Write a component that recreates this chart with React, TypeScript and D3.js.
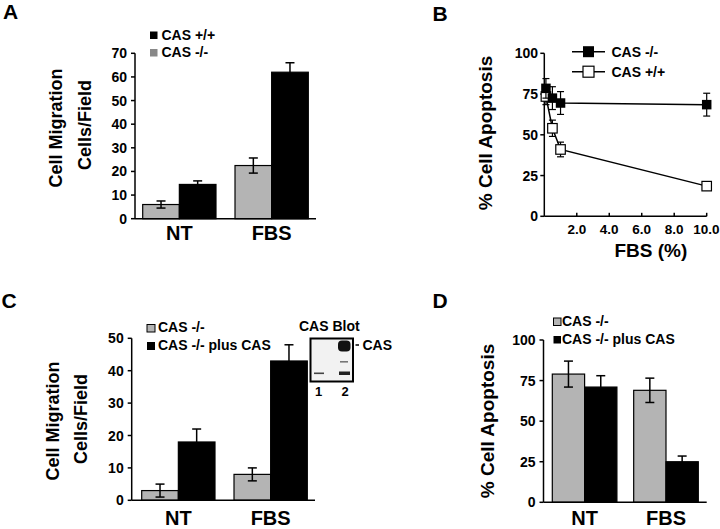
import React from "react";
import * as d3 from "d3";

// ---------- DATA ----------
const barCategories = ["NT", "FBS"];

// Panel A: Cell migration (cells/field)
const aSeries = ["CAS -/-", "CAS +/+"];
const aKO = [6, 22.5];
const aKOErr = [1.5, 3.2];
const aWT = [14.5, 62];
const aWTErr = [1.5, 4];
const aTicks = [0, 10, 20, 30, 40, 50, 60, 70];

// Panel B: % apoptosis vs FBS (%)
const bFbs = [0.1, 0.5, 1, 10];
const bKO = [78.5, 72.5, 69.5, 68.5];
const bKOErr = [6, 7, 7, 7];
const bWT = [73.5, 54, 41, 18.5];
const bWTErr = [5, 5, 4.5, 2.5];
const bYTicks = [0, 25, 50, 75, 100];
const bXTicks = [2, 4, 6, 8, 10];

// Panel C: Cell migration, rescue
const cSeries = ["CAS -/-", "CAS -/- plus CAS"];
const cKO = [3, 8];
const cKOErr = [2, 2];
const cRescue = [18, 43];
const cRescueErr = [4, 5];
const cTicks = [0, 10, 20, 30, 40, 50];

// Panel D: % apoptosis, rescue
const dSeries = ["CAS -/-", "CAS -/- plus CAS"];
const dKO = [79, 69];
const dKOErr = [8, 7.5];
const dRescue = [71, 25];
const dRescueErr = [7, 3.5];
const dTicks = [0, 25, 50, 75, 100];

// ---------- STYLE ----------
const FONT = "'Liberation Sans', Arial, Helvetica, sans-serif";
const GRAY = "#b4b4b4";
const BLACK = "#000";

type BarPanelProps = {
  axisX: number;
  axisEnd: number;
  y0: number;
  yTop: number;
  yMax: number;
  ticks: number[];
  bandStart: number;
  bandEnd: number;
  series: number[][];
  errors: number[][];
  fills: string[];
  labelY: number;
};

function BarPanel(p: BarPanelProps) {
  const y = d3.scaleLinear().domain([0, p.yMax]).range([p.y0, p.yTop]);
  const x0 = d3
    .scaleBand<string>()
    .domain(barCategories)
    .range([p.bandStart, p.bandEnd])
    .paddingInner(0.206)
    .paddingOuter(0);
  const x1 = d3
    .scaleBand<number>()
    .domain(p.series.map((_, i) => i))
    .range([0, x0.bandwidth()]);
  const capW = 9;
  return (
    <g>
      {barCategories.map((cat, ci) => (
        <g key={cat}>
          {p.series.map((s, si) => {
            const bx = (x0(cat) as number) + (x1(si) as number);
            const bw = x1.bandwidth();
            const v = s[ci];
            const e = p.errors[si][ci];
            const cx = bx + bw / 2;
            return (
              <g key={si}>
                <rect
                  x={bx}
                  y={y(v)}
                  width={bw}
                  height={y(0) - y(v)}
                  fill={p.fills[si]}
                  stroke="#000"
                  strokeWidth={1.2}
                />
                <line x1={cx} x2={cx} y1={y(v - e)} y2={y(v + e)} stroke="#000" strokeWidth={1.5} />
                <line x1={cx - capW / 2} x2={cx + capW / 2} y1={y(v + e)} y2={y(v + e)} stroke="#000" strokeWidth={1.5} />
                <line x1={cx - capW / 2} x2={cx + capW / 2} y1={y(v - e)} y2={y(v - e)} stroke="#000" strokeWidth={1.5} />
              </g>
            );
          })}
          <text
            x={(x0(cat) as number) + x0.bandwidth() / 2}
            y={p.labelY}
            textAnchor="middle"
            fontFamily={FONT}
            fontWeight="bold"
            fontSize={20}
          >
            {cat}
          </text>
        </g>
      ))}
      {/* axes */}
      <line x1={p.axisX} x2={p.axisX} y1={p.y0} y2={p.yTop} stroke="#000" strokeWidth={1.5} />
      <line x1={p.axisX} x2={p.axisEnd} y1={p.y0} y2={p.y0} stroke="#000" strokeWidth={1.5} />
      {p.ticks.map((t) => (
        <g key={t}>
          <line x1={p.axisX - 4} x2={p.axisX} y1={y(t)} y2={y(t)} stroke="#000" strokeWidth={1.5} />
          <text
            x={p.axisX - 8}
            y={y(t)}
            dy="0.36em"
            textAnchor="end"
            fontFamily={FONT}
            fontWeight="bold"
            fontSize={14}
          >
            {t}
          </text>
        </g>
      ))}
    </g>
  );
}

function PanelB() {
  const x = d3.scaleLinear().domain([0, 10]).range([544.3, 706.7]);
  const y = d3.scaleLinear().domain([0, 100]).range([216.3, 53.3]);
  const line = d3
    .line<number>()
    .x((_, i) => x(bFbs[i]))
    .y((d) => y(d));
  const capW = 7;
  const errs = (vals: number[], err: number[]) =>
    vals.map((v, i) => {
      const cx = x(bFbs[i]);
      return (
        <g key={i}>
          <line x1={cx} x2={cx} y1={y(v - err[i])} y2={y(v + err[i])} stroke="#000" strokeWidth={1.2} />
          <line x1={cx - capW / 2} x2={cx + capW / 2} y1={y(v + err[i])} y2={y(v + err[i])} stroke="#000" strokeWidth={1.2} />
          <line x1={cx - capW / 2} x2={cx + capW / 2} y1={y(v - err[i])} y2={y(v - err[i])} stroke="#000" strokeWidth={1.2} />
        </g>
      );
    });
  const ms = 9.5;
  return (
    <g>
      <line x1={544.3} x2={544.3} y1={216.3} y2={53.3} stroke="#000" strokeWidth={1.5} />
      <line x1={544.3} x2={706.7} y1={216.3} y2={216.3} stroke="#000" strokeWidth={1.5} />
      {bYTicks.map((t) => (
        <g key={t}>
          <line x1={540.3} x2={544.3} y1={y(t)} y2={y(t)} stroke="#000" strokeWidth={1.5} />
          <text x={538} y={y(t)} dy="0.36em" textAnchor="end" fontFamily={FONT} fontWeight="bold" fontSize={14}>
            {t}
          </text>
        </g>
      ))}
      {bXTicks.map((t) => (
        <g key={t}>
          <line x1={x(t)} x2={x(t)} y1={216.3} y2={212.8} stroke="#000" strokeWidth={1.5} />
          <text
            x={t === 10 ? 719.5 : x(t)}
            y={233.5}
            textAnchor={t === 10 ? "end" : "middle"}
            fontFamily={FONT}
            fontWeight="bold"
            fontSize={13.5}
          >
            {t.toFixed(1)}
          </text>
        </g>
      ))}
      {errs(bWT, bWTErr)}
      <path d={line(bWT) as string} fill="none" stroke="#000" strokeWidth={1.5} />
      {bWT.map((v, i) => (
        <rect key={i} x={x(bFbs[i]) - ms / 2} y={y(v) - ms / 2} width={ms} height={ms} fill="#fff" stroke="#000" strokeWidth={1.2} />
      ))}
      {errs(bKO, bKOErr)}
      <path d={line(bKO) as string} fill="none" stroke="#000" strokeWidth={1.5} />
      {bKO.map((v, i) => (
        <rect key={i} x={x(bFbs[i]) - ms / 2} y={y(v) - ms / 2} width={ms} height={ms} fill="#000" />
      ))}
      {/* legend */}
      <line x1={572} x2={605} y1={51.7} y2={51.7} stroke="#000" strokeWidth={1.5} />
      <rect x={583} y={46.2} width={11} height={11} fill="#000" />
      <text x={611.5} y={57} fontFamily={FONT} fontWeight="bold" fontSize={14}>CAS -/-</text>
      <line x1={572} x2={605} y1={71.7} y2={71.7} stroke="#000" strokeWidth={1.5} />
      <rect x={583} y={66.2} width={11} height={11} fill="#fff" stroke="#000" strokeWidth={1.2} />
      <text x={611.5} y={77} fontFamily={FONT} fontWeight="bold" fontSize={14}>CAS +/+</text>
      <text x={650.8} y={257} textAnchor="middle" fontFamily={FONT} fontWeight="bold" fontSize={19}>FBS (%)</text>
      <text transform="translate(492,133) rotate(-90)" textAnchor="middle" fontFamily={FONT} fontWeight="bold" fontSize={19}>
        % Cell Apoptosis
      </text>
    </g>
  );
}

function Blot() {
  return (
    <g>
      <rect x={310.5} y={338.5} width={42.5} height={43} fill="#f2f2f2" stroke="#000" strokeWidth={2} />
      <rect x={338} y={340.5} width={12.5} height={11} rx={4} fill="#111" />
      <rect x={340} y={361} width={8} height={1.6} fill="#777" />
      <rect x={339} y={371.5} width={11} height={3.5} fill="#222" />
      <rect x={314} y={372.5} width={10} height={1.6} fill="#444" />
      <text x={299} y={331} fontFamily={FONT} fontWeight="bold" fontSize={14}>CAS Blot</text>
      <line x1={355.5} x2={359} y1={345} y2={345} stroke="#000" strokeWidth={1.5} />
      <text x={362.5} y={350} fontFamily={FONT} fontWeight="bold" fontSize={14}>CAS</text>
      <text x={318.5} y={395.5} textAnchor="middle" fontFamily={FONT} fontWeight="bold" fontSize={13}>1</text>
      <text x={345} y={395.5} textAnchor="middle" fontFamily={FONT} fontWeight="bold" fontSize={13}>2</text>
    </g>
  );
}

export default function App() {
  const panelLetter = (t: string, x: number, y: number) => (
    <text x={x} y={y} fontFamily={FONT} fontWeight="bold" fontSize={21}>
      {t}
    </text>
  );
  const rotLabel = (t: string, x: number, y: number, size = 18) => (
    <text transform={`translate(${x},${y}) rotate(-90)`} textAnchor="middle" fontFamily={FONT} fontWeight="bold" fontSize={size}>
      {t}
    </text>
  );
  return (
    <svg width={720} height={529} style={{ position: "absolute", left: 0, top: 0, background: "#fff" }}>
      <rect x={0} y={0} width={720} height={529} fill="#fff" />
      {panelLetter("A", 3, 19)}
      {panelLetter("B", 432.5, 20.5)}
      {panelLetter("C", 1.5, 308)}
      {panelLetter("D", 432.5, 308)}

      {/* Panel A */}
      <BarPanel
        axisX={135}
        axisEnd={316}
        y0={218.7}
        yTop={53.3}
        yMax={70}
        ticks={aTicks}
        bandStart={142.7}
        bandEnd={308.3}
        series={[aKO, aWT]}
        errors={[aKOErr, aWTErr]}
        fills={[GRAY, BLACK]}
        labelY={240}
      />
      <rect x={150} y={31.5} width={7.5} height={7.5} fill="#000" />
      <text x={161.5} y={39.5} fontFamily={FONT} fontWeight="bold" fontSize={14}>{aSeries[1]}</text>
      <rect x={150} y={49} width={7.5} height={7.5} fill="#888" />
      <text x={161.5} y={57} fontFamily={FONT} fontWeight="bold" fontSize={14}>{aSeries[0]}</text>
      {rotLabel("Cell Migration", 62, 128)}
      {rotLabel("Cells/Field", 91, 125)}

      {/* Panel B */}
      <PanelB />

      {/* Panel C */}
      <BarPanel
        axisX={131.7}
        axisEnd={315}
        y0={500.3}
        yTop={338.3}
        yMax={50}
        ticks={cTicks}
        bandStart={141.7}
        bandEnd={307.3}
        series={[cKO, cRescue]}
        errors={[cKOErr, cRescueErr]}
        fills={[GRAY, BLACK]}
        labelY={525}
      />
      <rect x={147} y={324.5} width={8} height={7.5} fill={GRAY} stroke="#000" strokeWidth={1} />
      <text x={158} y={332} fontFamily={FONT} fontWeight="bold" fontSize={14}>{cSeries[0]}</text>
      <rect x={147} y={342} width={8} height={8} fill="#000" />
      <text x={158} y={350} fontFamily={FONT} fontWeight="bold" fontSize={14}>{cSeries[1]}</text>
      {rotLabel("Cell Migration", 59, 421)}
      {rotLabel("Cells/Field", 87, 419)}
      <Blot />

      {/* Panel D */}
      <BarPanel
        axisX={543.5}
        axisEnd={706.7}
        y0={502.3}
        yTop={340}
        yMax={100}
        ticks={dTicks}
        bandStart={552.3}
        bandEnd={698.3}
        series={[dKO, dRescue]}
        errors={[dKOErr, dRescueErr]}
        fills={[GRAY, BLACK]}
        labelY={525}
      />
      <rect x={553.5} y={318} width={7.5} height={7.5} fill={GRAY} stroke="#000" strokeWidth={1} />
      <text x={562} y={325.5} fontFamily={FONT} fontWeight="bold" fontSize={14}>{dSeries[0]}</text>
      <rect x={553.5} y={336} width={7.5} height={7.5} fill="#000" />
      <text x={562} y={343.5} fontFamily={FONT} fontWeight="bold" fontSize={14}>{dSeries[1]}</text>
      {rotLabel("% Cell Apoptosis", 494, 421, 19)}
    </svg>
  );
}
